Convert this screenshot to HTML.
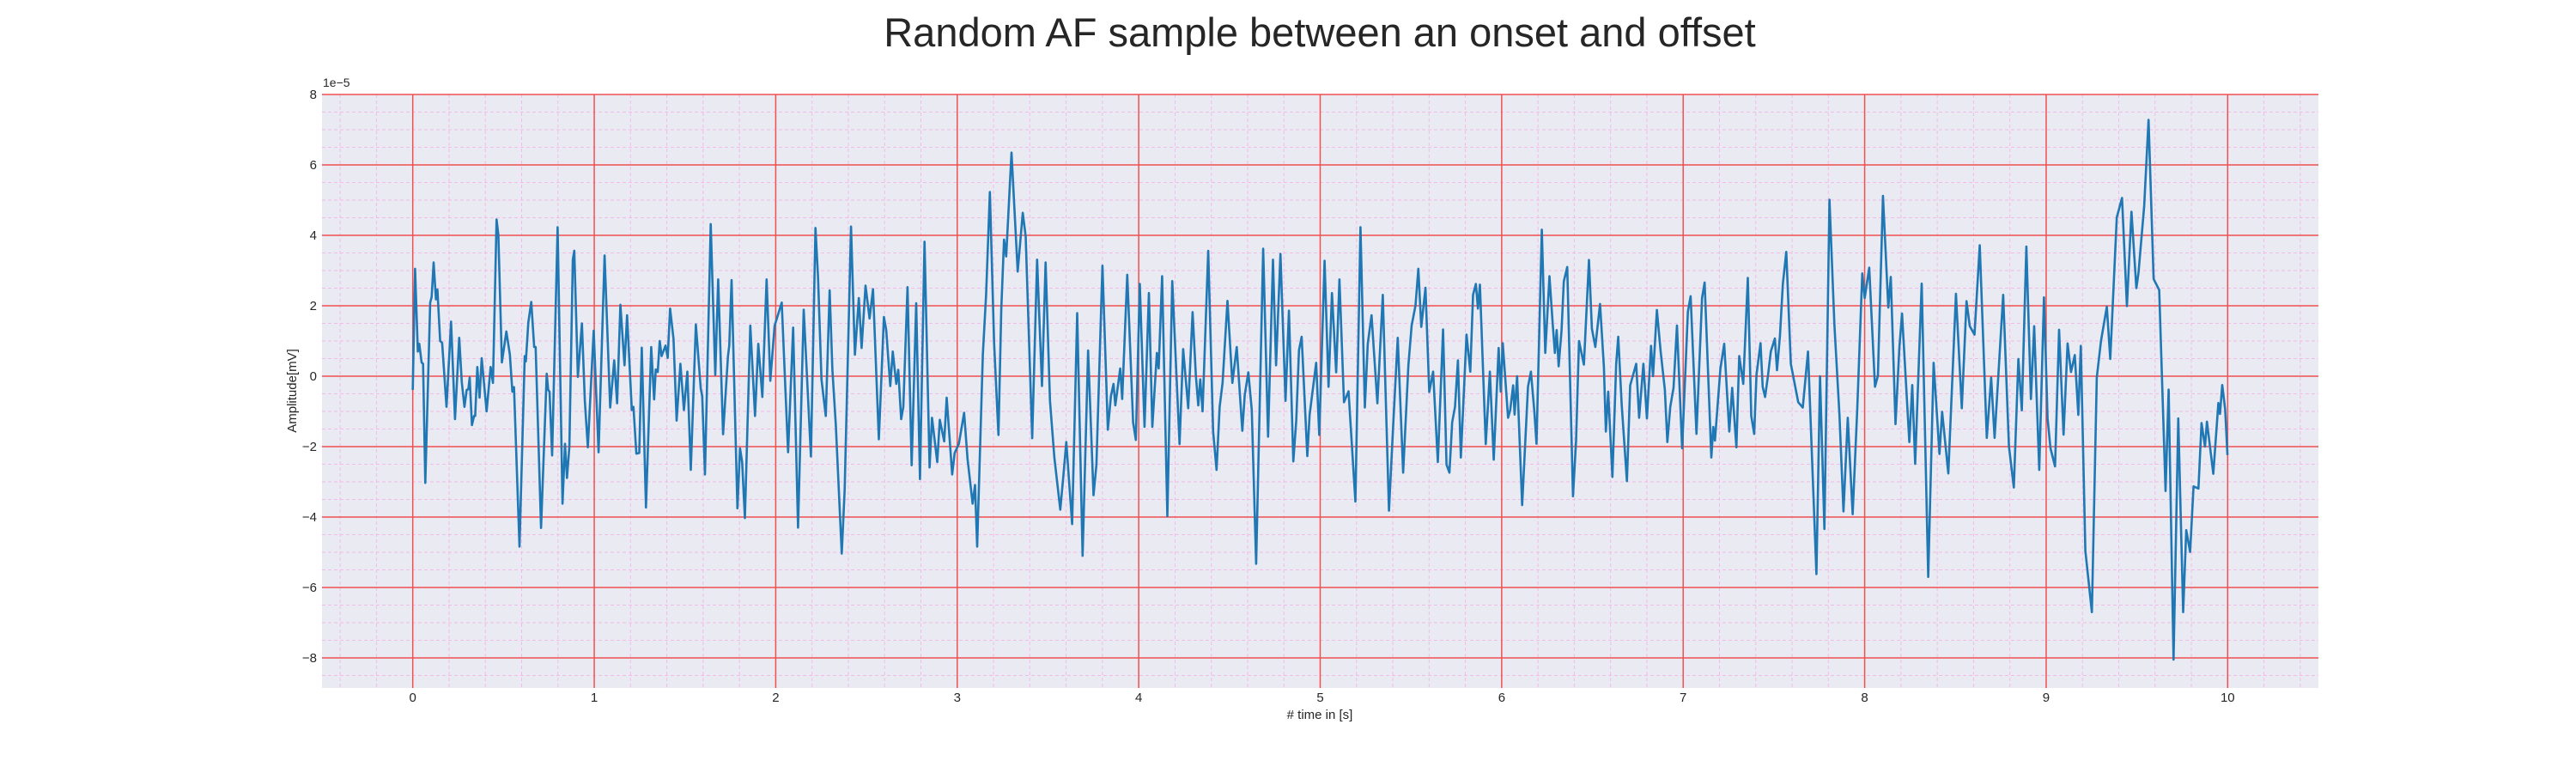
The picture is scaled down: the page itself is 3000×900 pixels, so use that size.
<!DOCTYPE html>
<html><head><meta charset="utf-8">
<style>
html,body{margin:0;padding:0;background:#fff;}
svg{display:block;font-family:"Liberation Sans",Arial,sans-serif;}
</style></head>
<body>
<svg id="chart" width="3000" height="900" viewBox="0 0 3000 900" xmlns="http://www.w3.org/2000/svg">
<text x="1537" y="54" font-size="47" text-anchor="middle" fill="#262626">Random AF sample between an onset and offset</text>
<rect x="375" y="110" width="2325" height="691" fill="#eaeaf2"/>
<g id="grid"></g>
<g id="series"></g>
<g id="axes"></g>
<text x="376" y="101" font-size="14" fill="#262626">1e−5</text>
<text x="1537" y="837" font-size="15" text-anchor="middle" fill="#262626"># time in [s]</text>
<text x="0" y="0" font-size="15" text-anchor="middle" fill="#262626" transform="translate(345,455) rotate(-90)">Amplitude[mV]</text>
</svg>
<script>
const xTicks=[0,1,2,3,4,5,6,7,8,9,10];
const yTicks=[-8,-6,-4,-2,0,2,4,6,8];
const yTickLabels=["−8","−6","−4","−2","0","2","4","6","8"];
const t=[0,0.013,0.028,0.036,0.049,0.057,0.069,0.096,0.104,0.115,0.128,0.136,0.151,0.162,0.186,0.211,0.233,0.256,0.270,0.285,0.297,0.306,0.314,0.326,0.338,0.344,0.356,0.368,0.380,0.407,0.429,0.442,0.462,0.472,0.491,0.516,0.535,0.549,0.558,0.588,0.617,0.623,0.637,0.653,0.669,0.677,0.707,0.738,0.746,0.754,0.768,0.798,0.825,0.839,0.850,0.863,0.882,0.890,0.910,0.932,0.948,0.965,0.997,1.024,1.057,1.088,1.110,1.126,1.144,1.167,1.181,1.207,1.216,1.232,1.248,1.262,1.285,1.314,1.330,1.339,1.350,1.361,1.371,1.393,1.405,1.418,1.437,1.454,1.475,1.494,1.513,1.532,1.560,1.587,1.595,1.610,1.642,1.667,1.683,1.710,1.737,1.744,1.757,1.789,1.803,1.815,1.830,1.860,1.886,1.904,1.926,1.950,1.970,1.994,
2.033,2.068,2.096,2.123,2.154,2.194,2.219,2.233,2.252,2.276,2.297,2.312,2.331,2.364,2.380,2.415,2.436,2.458,2.473,2.495,2.517,2.536,2.568,2.596,2.609,2.631,2.645,2.664,2.675,2.691,2.703,2.726,2.749,2.774,2.795,2.820,2.848,2.861,2.890,2.904,2.928,2.942,2.972,2.986,3.009,3.038,3.057,3.085,3.098,3.110,3.141,3.159,3.180,3.203,3.227,3.243,3.258,3.270,3.299,3.333,3.361,3.377,3.413,3.440,3.467,3.487,3.511,3.535,3.568,3.585,3.601,3.633,3.661,3.691,3.721,3.751,3.767,3.800,3.830,3.847,3.861,3.871,3.898,3.909,3.937,3.969,3.984,4.006,
4.032,4.056,4.075,4.100,4.110,4.129,4.158,4.185,4.225,4.245,4.273,4.297,4.315,4.328,4.339,4.352,4.383,4.410,4.429,4.446,4.462,4.489,4.516,4.540,4.571,4.584,4.604,4.623,4.647,4.686,4.713,4.740,4.757,4.781,4.809,4.828,4.852,4.868,4.883,4.898,4.929,4.942,4.978,4.995,5.024,5.046,5.065,5.088,5.106,5.131,5.156,5.194,5.222,5.246,5.262,5.283,5.315,5.345,5.379,5.404,5.427,5.457,5.486,5.504,5.525,5.541,5.557,5.580,5.601,5.622,5.648,5.677,5.696,5.712,5.727,5.743,5.759,5.775,5.806,5.827,5.842,5.858,5.869,5.880,5.912,5.935,5.956,5.983,5.995,6.006,
6.035,6.047,6.063,6.071,6.085,6.113,6.145,6.161,6.180,6.192,6.221,6.240,6.263,6.281,6.293,6.303,6.314,6.330,6.342,6.361,6.393,6.410,6.426,6.453,6.481,6.497,6.516,6.542,6.563,6.574,6.587,6.610,6.631,6.642,6.661,6.690,6.708,6.741,6.757,6.781,6.800,6.823,6.834,6.855,6.876,6.899,6.913,6.929,6.947,6.966,6.994,7.026,7.041,7.073,7.104,7.118,7.155,7.166,7.175,7.205,7.226,7.254,7.270,7.293,7.309,7.331,7.356,7.375,7.391,7.404,7.426,7.438,7.451,7.467,7.483,7.505,7.517,7.533,7.549,7.568,7.593,7.634,7.659,7.688,7.734,7.754,7.778,7.806,7.833,7.861,7.883,7.907,7.934,7.959,7.987,8.000,
8.025,8.057,8.073,8.101,8.130,8.144,8.170,8.191,8.206,8.246,8.262,8.278,8.314,8.350,8.380,8.412,8.427,8.461,8.503,8.535,8.561,8.579,8.605,8.634,8.673,8.697,8.716,8.763,8.795,8.822,8.847,8.866,8.891,8.916,8.934,8.962,8.988,9.008,9.024,9.049,9.071,9.096,9.118,9.137,9.158,9.177,9.191,9.216,9.252,9.279,9.302,9.334,9.353,9.389,9.418,9.445,9.470,9.497,9.509,9.540,9.564,9.592,9.623,9.658,9.675,9.702,9.728,9.755,9.772,9.793,9.812,9.839,9.856,9.875,9.886,9.921,9.949,9.958,9.970,9.986,9.999];
const v=[-0.39,3.05,0.70,0.92,0.39,0.35,-3.03,2.09,2.25,3.23,2.18,2.46,1.00,0.95,-0.87,1.55,-1.22,1.09,-0.17,-0.87,-0.39,-0.37,-0.04,-1.39,-1.13,-1.13,0.26,-0.61,0.51,-1.0,0.26,-0.19,4.45,4.01,0.39,1.27,0.61,-0.44,-0.31,-4.84,0.57,0.42,1.53,2.11,0.83,0.83,-4.31,0.07,-0.39,-0.44,-2.25,4.23,-3.62,-1.92,-2.89,-2.0,3.31,3.56,-0.02,1.50,-0.70,-2.02,1.29,-2.16,3.43,-0.89,0.45,-0.77,2.03,0.31,1.73,-0.96,-0.87,-2.20,-2.18,0.81,-3.73,0.83,-0.66,0.19,0.12,1.00,0.57,0.87,0.52,1.92,1.05,-1.26,0.35,-0.96,0.13,-2.66,1.47,-0.35,-0.57,-2.79,4.32,0.04,2.75,-1.65,0.57,0.87,2.73,-3.75,-2.05,-2.44,-4.03,1.44,-1.13,0.92,-0.59,2.75,-0.13,1.43,
2.09,-2.16,1.38,-4.30,1.89,-2.28,4.21,2.79,-0.09,-1.13,2.44,0.18,-1.39,-5.04,-3.22,4.25,0.61,2.22,0.80,2.57,1.64,2.47,-1.79,1.68,1.31,-0.28,0.70,-0.22,0.18,-1.22,-0.87,2.53,-2.53,2.07,-2.92,3.82,-2.59,-1.18,-2.44,-1.24,-1.85,-0.61,-2.79,-2.18,-1.92,-1.04,-2.35,-3.62,-3.09,-4.84,0.61,2.31,5.23,0.96,-1.67,1.92,3.88,3.40,6.35,2.97,4.64,3.97,-1.76,3.31,-0.28,3.23,-0.70,-2.31,-3.79,-2.83,-1.87,-4.20,1.79,-5.10,0.73,-3.38,-2.51,3.14,-1.52,-0.56,-0.22,-0.83,0.22,-0.65,2.88,-1.31,-1.81,2.62,
-1.44,2.36,-1.44,0.66,0.22,2.84,-3.97,2.70,-1.93,0.77,-0.91,1.82,0.02,-0.83,-0.09,-1.0,3.56,-1.57,-2.66,-0.87,-0.19,2.14,-0.19,0.83,-1.55,-0.54,0.11,-0.96,-5.33,3.62,-1.72,3.31,0.31,3.47,-0.70,1.86,-2.42,-1.26,0.74,1.12,-2.27,-1.09,0.38,-1.67,3.28,-0.30,2.36,0.11,2.75,-0.74,-0.43,-3.56,4.23,-0.89,0.92,1.73,-0.77,2.31,-3.82,-1.20,1.09,-2.74,0.31,1.44,2.01,3.05,1.40,2.51,-0.45,0.13,-2.44,1.33,-2.51,-2.74,-1.31,-0.87,0.45,-2.31,1.18,0.13,2.31,2.62,1.92,2.60,-1.93,0.13,-2.37,0.80,-0.44,0.94,
-1.18,-0.96,-0.26,-1.09,0.0,-3.66,-0.30,0.13,-1.0,-1.92,4.16,0.66,2.84,1.48,0.66,1.31,0.28,1.31,2.69,3.10,-3.41,-1.83,1.0,0.33,3.30,1.35,0.83,2.05,0.26,-1.57,-0.44,-2.86,0.35,1.12,-0.80,-2.98,-0.26,0.35,-1.18,0.35,-1.20,0.86,0.0,1.88,0.70,-0.39,-1.87,-0.87,-0.33,1.44,-2.05,1.83,2.27,-1.64,2.22,2.66,-2.31,-1.44,-1.83,0.22,0.92,-1.57,-0.33,-2.02,0.57,-0.22,2.79,-1.13,-1.64,0.04,0.94,-0.30,-0.59,0.0,0.70,1.07,0.17,1.14,2.62,3.53,0.35,-0.74,-0.89,0.70,-5.62,0.0,-4.34,5.01,1.48,-1.09,-3.84,-1.18,-3.92,-0.96,2.92,2.22,
3.08,-0.30,0.01,5.12,1.95,2.82,-1.36,0.81,1.78,-1.87,-0.25,-2.49,2.63,-5.70,0.38,-2.21,-1.01,-2.76,2.34,-0.91,2.13,1.42,1.18,3.72,-1.75,-0.04,-1.75,2.31,-1.99,-3.16,0.49,-0.97,3.68,-0.65,1.42,-2.66,2.24,-1.20,-2.05,-2.56,1.32,-1.66,0.93,0.12,0.60,-1.10,0.86,-4.96,-6.70,-0.04,1.0,1.97,0.49,4.51,5.06,1.99,4.67,2.50,2.94,4.83,7.28,2.76,2.45,-3.26,-0.38,-8.05,-1.20,-6.70,-4.37,-4.99,-3.13,-3.19,-1.33,-2.0,-1.29,-2.77,-0.76,-1.07,-0.25,-0.94,-2.24];

const NS='http://www.w3.org/2000/svg';
const L=375,R=2700,T=110,B=801;
const xMin=-0.5,xMax=10.5,yMin=-8.83,yMax=8.02;
function xs(x){return L+(x-xMin)/(xMax-xMin)*(R-L);}
function ys(y){return 438-y*41;}
function mk(tag,attrs,parent){const e=document.createElementNS(NS,tag);for(const k in attrs)e.setAttribute(k,attrs[k]);parent.appendChild(e);return e;}
const grid=document.getElementById('grid'),axes=document.getElementById('axes'),series=document.getElementById('series');
for(let k=-2;k<=52;k++){const x=k*0.2;if(x<xMin||x>xMax)continue;if(Math.abs(x-Math.round(x))<1e-6)continue;
 const l=mk('line',{x1:xs(x),x2:xs(x),y1:T,y2:B,stroke:'#f4b6e6','stroke-width':1,'stroke-dasharray':'4 3',opacity:0.9},grid);
 
 }
for(let k=-18;k<=16;k++){const y=k*0.5;if(y<yMin||y>yMax)continue;if(Math.abs(y/2-Math.round(y/2))<1e-6)continue;
 const l=mk('line',{x1:L,x2:R,y1:ys(y),y2:ys(y),stroke:'#f4b6e6','stroke-width':1,'stroke-dasharray':'4 3',opacity:0.9},grid);
 
 }
xTicks.forEach(x=>{
 const l=mk('line',{x1:xs(x),x2:xs(x),y1:T,y2:B,stroke:'#f05050','stroke-width':1.5},grid);
 
 
 const tx=mk('text',{x:xs(x),y:817,'font-size':15,'text-anchor':'middle',fill:'#262626'},axes);
 tx.textContent=String(x);
 
 
});
yTicks.forEach((y,i)=>{
 const l=mk('line',{x1:L,x2:R,y1:ys(y),y2:ys(y),stroke:'#f05050','stroke-width':1.5},grid);
 
 
 const tx=mk('text',{x:369,y:ys(y)+5,'font-size':15,'text-anchor':'end',fill:'#262626'},axes);
 tx.textContent=yTickLabels[i];
 
 
});
let d='';
for(let i=0;i<t.length;i++){d+=(i?'L':'M')+xs(t[i]).toFixed(1)+','+ys(v[i]).toFixed(1);}
const p=mk('path',{d:d,fill:'none',stroke:'#1f77b4','stroke-width':2.6,'stroke-linejoin':'round'},series);


</script>
</body></html>
